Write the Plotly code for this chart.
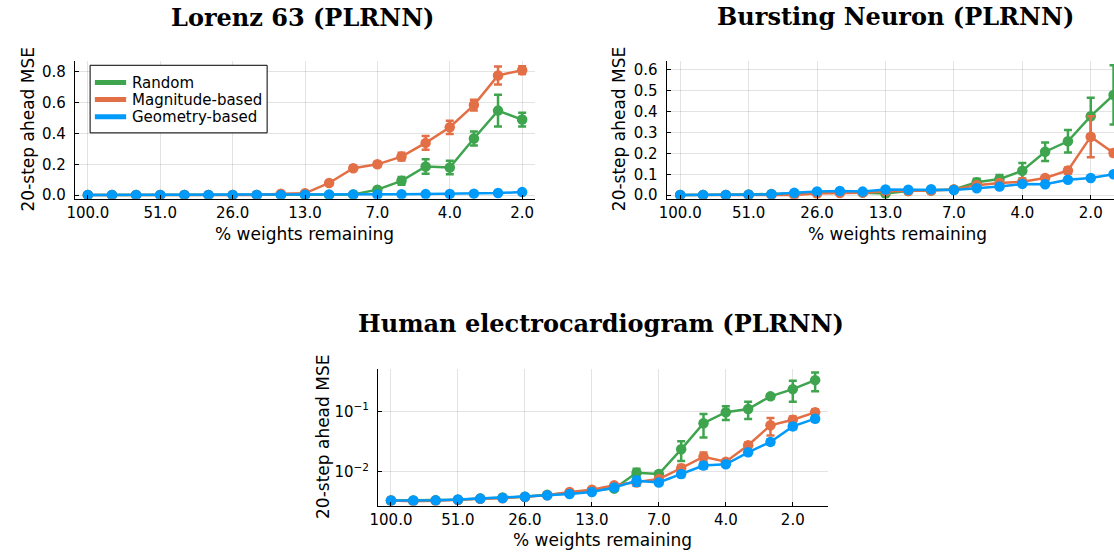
import plotly.graph_objects as go

W, H = 1114, 560

tick_idx = [0, 3, 6, 9, 12, 15, 18]
tick_labels = ["100.0", "51.0", "26.0", "13.0", "7.0", "4.0", "2.0"]

# ---- Lorenz 63 (19 pruning levels)
lor_random = [0.002, 0.002, 0.002, 0.002, 0.002, 0.002, 0.002, 0.002, 0.002, 0.002,
              0.002, 0.004, 0.036, 0.093, 0.186, 0.179, 0.367, 0.548, 0.49]
lor_random_err = [0, 0, 0, 0, 0, 0, 0, 0, 0, 0, 0, 0.003, 0.01, 0.025, 0.047, 0.044,
                  0.045, 0.103, 0.045]
lor_mag = [0.002, 0.002, 0.002, 0.002, 0.002, 0.002, 0.002, 0.002, 0.009, 0.012,
           0.079, 0.175, 0.2, 0.25, 0.339, 0.44, 0.584, 0.776, 0.81]
lor_mag_err = [0, 0, 0, 0, 0, 0, 0, 0, 0.004, 0.006, 0.012, 0.015, 0.015, 0.025,
               0.045, 0.043, 0.035, 0.058, 0.025]
lor_geo = [0.002, 0.002, 0.002, 0.002, 0.002, 0.002, 0.002, 0.002, 0.002, 0.003,
           0.004, 0.004, 0.005, 0.006, 0.007, 0.008, 0.010, 0.014, 0.020]
lor_geo_err = [0] * 16 + [0.002, 0.003, 0.004]

# ---- Bursting neuron (20 pruning levels)
bur_random = [0.001, 0.001, 0.001, 0.003, 0.006, 0.008, 0.012, 0.015, 0.012, 0.008,
              0.02, 0.022, 0.027, 0.062, 0.077, 0.117, 0.208, 0.258, 0.378, 0.48]
bur_random_err = [0, 0, 0, 0, 0, 0.002, 0.003, 0.003, 0.003, 0.004, 0.004, 0.004,
                  0.005, 0.016, 0.019, 0.037, 0.044, 0.054, 0.088, 0.142]
bur_mag = [0.001, 0.001, 0.001, 0.001, 0.002, 0.001, 0.008, 0.01, 0.012, 0.019,
           0.02, 0.022, 0.027, 0.048, 0.058, 0.064, 0.082, 0.118, 0.28, 0.202]
bur_mag_err = [0, 0, 0, 0, 0, 0, 0, 0, 0, 0, 0, 0, 0, 0.006, 0.007, 0.008, 0.009,
               0.014, 0.098, 0.015]
bur_geo = [0.001, 0.001, 0.001, 0.002, 0.004, 0.011, 0.018, 0.02, 0.017, 0.027,
           0.026, 0.028, 0.025, 0.033, 0.041, 0.054, 0.052, 0.074, 0.082, 0.1]
bur_geo_err = [0] * 13 + [0.003, 0.003, 0.004, 0.004, 0.005, 0.005, 0.006]

# ---- Human electrocardiogram (20 pruning levels, log scale)
ecg_random = [0.00329, 0.0033, 0.00332, 0.0034, 0.00355, 0.0037, 0.0038, 0.0041,
              0.0044, 0.0049, 0.0052, 0.0096, 0.0091, 0.0235, 0.064, 0.0973, 0.11,
              0.179, 0.236, 0.333]
ecg_random_err = [0, 0, 0, 0, 0, 0, 0, 0, 0, 0, 0.0004, 0.0015, 0.001, 0.0085,
                  0.027, 0.025, 0.035, 0.015, 0.09, 0.115]
ecg_mag = [0.00329, 0.00322, 0.00328, 0.00335, 0.00352, 0.0036, 0.00378, 0.00405,
           0.00457, 0.0050, 0.0059, 0.0066, 0.0075, 0.0114, 0.0177, 0.0146, 0.0275,
           0.059, 0.073, 0.097]
ecg_mag_err = [0, 0, 0, 0, 0, 0, 0, 0, 0, 0, 0.0003, 0.0005, 0.0005, 0.0015, 0.003,
               0.001, 0.003, 0.019, 0.01, 0.011]
ecg_geo = [0.00329, 0.0033, 0.00332, 0.00342, 0.00355, 0.00364, 0.0038, 0.00403,
           0.00424, 0.00457, 0.00545, 0.00703, 0.0066, 0.0091, 0.0126, 0.0132,
           0.0209, 0.0312, 0.0566, 0.076]
ecg_geo_err = [0, 0, 0, 0, 0, 0, 0, 0, 0, 0, 0.0003, 0.0012, 0.0005, 0.001, 0.0015,
               0.0012, 0.002, 0.003, 0.006, 0.008]

names = ["Random", "Magnitude-based", "Geometry-based"]
colors = ["#3EA44E", "#E36F47", "#009AFA"]

panels = [
    ("x", "y", [lor_random, lor_mag, lor_geo], [lor_random_err, lor_mag_err, lor_geo_err]),
    ("x2", "y2", [bur_random, bur_mag, bur_geo], [bur_random_err, bur_mag_err, bur_geo_err]),
    ("x3", "y3", [ecg_random, ecg_mag, ecg_geo], [ecg_random_err, ecg_mag_err, ecg_geo_err]),
]

fig = go.Figure()
for xa, ya, series, errs in panels:
    for name, col, vals, err in zip(names, colors, series, errs):
        fig.add_trace(go.Scatter(
            x=list(range(len(vals))), y=vals, mode="lines+markers", name=name,
            xaxis=xa, yaxis=ya, showlegend=False,
            line=dict(color=col, width=2.5),
            marker=dict(color=col, size=10.5, line=dict(width=0)),
            error_y=dict(type="data", array=err, visible=True, color=col,
                         thickness=2.5, width=4),
        ))


def px_x(p):
    return p / W


def px_y(p):
    return 1 - p / H


grid = "rgba(0,0,0,0.11)"
tickfont = dict(family="DejaVu Sans", size=15, color="black")


def xaxis(domain, rng, anchor):
    return dict(domain=domain, range=rng, anchor=anchor, tickmode="array",
                tickvals=tick_idx, ticktext=tick_labels, showline=True,
                linecolor="black", linewidth=1, ticks="inside", ticklen=4,
                tickcolor="black", showgrid=True, gridcolor=grid, gridwidth=1,
                zeroline=False, tickfont=tickfont)


def yaxis(domain, rng, anchor, **kw):
    d = dict(domain=domain, range=rng, anchor=anchor, showline=True,
             linecolor="black", linewidth=1, ticks="inside", ticklen=4,
             tickcolor="black", showgrid=True, gridcolor=grid, gridwidth=1,
             zeroline=False, tickfont=tickfont, ticklabelstandoff=5)
    d.update(kw)
    return d


top_y = [px_y(201), px_y(61.9)]
fig.update_layout(
    width=W, height=H, margin=dict(l=0, r=0, t=0, b=0),
    paper_bgcolor="white", plot_bgcolor="white", showlegend=False,
    font=dict(family="DejaVu Sans", color="black"),
    xaxis=xaxis([px_x(67.3), px_x(531)], [-0.54, 18.54], "y"),
    yaxis=yaxis(top_y, [-0.0237, 0.868], "x", tickvals=[0, 0.2, 0.4, 0.6, 0.8],
                ticktext=["0.0", "0.2", "0.4", "0.6", "0.8"]),
    xaxis2=xaxis([px_x(663.3), 1.0], [-0.6, 19.02], "y2"),
    yaxis2=yaxis(top_y, [-0.0176, 0.641], "x2",
                 tickvals=[0, 0.1, 0.2, 0.3, 0.4, 0.5, 0.6],
                 ticktext=["0.0", "0.1", "0.2", "0.3", "0.4", "0.5", "0.6"]),
    xaxis3=xaxis([px_x(372.7), px_x(826)], [-0.58, 19.58], "y3"),
    yaxis3=yaxis([px_y(511), px_y(372.7)], [-2.565, -0.287], "x3", type="log",
                 tickvals=[0.01, 0.1],
                 ticktext=["10<sup>\u22122</sup>", "10<sup>\u22121</sup>"]),
)

# ---- manual legend (top-left panel)
fig.add_shape(type="rect", xref="paper", yref="paper",
              x0=px_x(82.7), x1=px_x(261), y0=px_y(134.3), y1=px_y(66),
              line=dict(color="black", width=1), fillcolor="white", layer="above")
for i, (name, col) in enumerate(zip(names, colors)):
    yy = 83.5 + 17.2 * i
    fig.add_shape(type="line", xref="paper", yref="paper",
                  x0=px_x(87.5), x1=px_x(119), y0=px_y(yy), y1=px_y(yy),
                  line=dict(color=col, width=5), layer="above")
    fig.add_annotation(text=name, x=px_x(123), y=px_y(yy), xref="paper", yref="paper",
                       showarrow=False, xanchor="left", yanchor="middle",
                       font=dict(family="DejaVu Sans", size=15, color="black"))

title_font = dict(family="DejaVu Serif", size=24, color="black")
label_font = dict(family="DejaVu Sans", size=17, color="black")
annos = [
    ("<b>Lorenz 63 (PLRNN)</b>", 297, 18, title_font, 0),
    ("<b>Bursting Neuron (PLRNN)</b>", 894, 17, title_font, 0),
    ("<b>Human electrocardiogram (PLRNN)</b>", 597, 327, title_font, 0),
    ("% weights remaining", 299, 237, label_font, 0),
    ("% weights remaining", 896, 237, label_font, 0),
    ("% weights remaining", 599, 546, label_font, 0),
    ("20-step ahead MSE", 20, 131, label_font, -90),
    ("20-step ahead MSE", 615, 131, label_font, -90),
    ("20-step ahead MSE", 318, 442, label_font, -90),
]
for text, x, y, f, ang in annos:
    fig.add_annotation(text=text, x=px_x(x), y=px_y(y), xref="paper", yref="paper",
                       showarrow=False, font=f, textangle=ang,
                       xanchor="center", yanchor="middle")

fig.write_html("out.html")
